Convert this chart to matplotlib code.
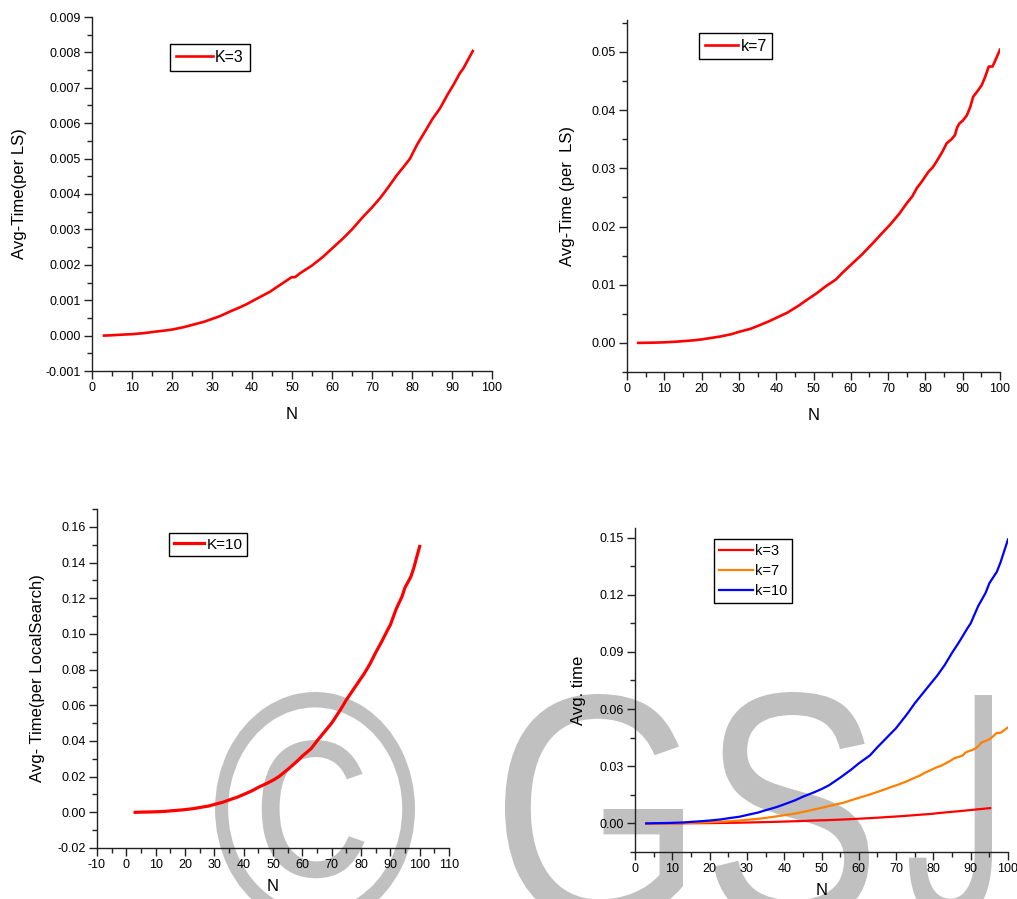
import matplotlib
matplotlib.use("Agg")
import matplotlib.pyplot as plt
from matplotlib.ticker import MultipleLocator, FormatStrFormatter
from matplotlib.textpath import TextPath
from matplotlib.patches import PathPatch
from matplotlib.font_manager import FontProperties
from matplotlib.transforms import Affine2D

plt.rcParams['font.family'] = ['Liberation Sans', 'DejaVu Sans']

# data
n_k3 = [3, 5, 8, 10, 13, 15, 18, 20, 23, 25, 28, 30, 32, 34.5, 37, 38.7, 41, 44.5, 47,
        49.9, 50.75, 52, 55, 57.8, 60, 62.8, 65, 67.8, 70, 72, 74, 76.2, 78, 79.5,
        81.2, 83.7, 85, 87, 89, 90.3, 92, 92.8, 95.2]
t_k3 = [0.0, 0.00001, 0.00003, 0.00004, 0.00007, 0.0001, 0.00014, 0.00017, 0.00024,
        0.0003, 0.00039, 0.00047, 0.00055, 0.00068, 0.0008, 0.00089, 0.00103, 0.00124,
        0.00143, 0.00165, 0.00165, 0.00176, 0.00198, 0.00223, 0.00246, 0.00275, 0.003,
        0.00336, 0.00362, 0.00388, 0.00418, 0.00453, 0.00478, 0.005, 0.00538, 0.00585,
        0.0061, 0.00642, 0.00683, 0.00707, 0.00742, 0.00754, 0.00804]

n_k7 = [3, 5, 8, 10, 13, 15, 18, 20, 23, 25, 28, 30, 33, 35, 38, 40, 43, 46, 48, 51,
        53, 56, 58, 61, 63, 66, 68, 70.5, 73, 75, 76.5, 77.7, 79, 80.8, 82, 83, 84.5,
        85.7, 87, 87.9, 88.5, 89.1, 90, 91.1, 92, 92.8, 94, 95.1, 96, 97, 98, 98.7, 100]
t_k7 = [0.0, 0.00002, 0.00006, 0.0001, 0.0002, 0.0003, 0.00045, 0.0006, 0.0009, 0.0011,
        0.0015, 0.0019, 0.0024, 0.0029, 0.0037, 0.0043, 0.0052, 0.0064, 0.0073, 0.0086,
        0.0096, 0.0109, 0.0122, 0.0140, 0.0152, 0.0172, 0.0186, 0.0203, 0.0222, 0.0240,
        0.0252, 0.0266, 0.0277, 0.0294, 0.0302, 0.0312, 0.0328, 0.0343, 0.0350, 0.0357,
        0.0370, 0.0377, 0.0382, 0.0391, 0.0405, 0.0423, 0.0433, 0.0443, 0.0457, 0.0475,
        0.0475, 0.0485, 0.0504]

n_k10 = [3, 5, 8, 10, 13, 15, 18, 20, 23, 25, 28, 30, 33, 35, 38, 40, 43, 45, 48, 50,
         52, 55, 58, 60, 63, 65, 68, 70, 73, 75, 78, 81, 83, 85, 87, 89, 90, 92, 94,
         95, 97, 98, 100]
t_k10 = [0.0, 0.0001, 0.0002, 0.0003, 0.0005, 0.0008, 0.0012, 0.0015, 0.0021, 0.0027,
         0.0035, 0.0044, 0.0057, 0.0069, 0.0086, 0.0100, 0.0122, 0.0140, 0.0163, 0.0180,
         0.0200, 0.0240, 0.0283, 0.0315, 0.0357, 0.0400, 0.0460, 0.0500, 0.0575, 0.0630,
         0.0703, 0.0775, 0.0830, 0.0895, 0.0955, 0.1020, 0.1050, 0.1140, 0.1210, 0.1260,
         0.1320, 0.1370, 0.1490]

W, H = 1017, 899
fig = plt.figure(figsize=(W / 100, H / 100), dpi=100)
fig.patch.set_facecolor('white')

# watermark "© GSJ" behind the plots (glyph, font, left, right, top, height in px)
wm_glyphs = [('\u00a9', 'Liberation Sans', 215, 415, 692, 234),
             ('G', 'Liberation Sans', 505, 683, 694, 230),
             ('S', 'Liberation Sans', 714, 869, 692, 232),
             ('J', 'Roboto', 909, 992, 695, 228)]
for ch, fam, x0, x1, top, h in wm_glyphs:
    tp = TextPath((0, 0), ch, size=100, prop=FontProperties(family=fam))
    ext = tp.get_extents()
    tr = (Affine2D().translate(-ext.x0, -ext.y1)
          .scale((x1 - x0) / ext.width / W, h / ext.height / H)
          .translate(x0 / W, 1 - top / H) + fig.transFigure)
    fig.patches.append(PathPatch(tp, transform=tr, fc='#c0c0c0', ec='none', zorder=-10))


def make_ax(left, right, top, bottom):
    ax = fig.add_axes([left / W, 1 - bottom / H, (right - left) / W, (bottom - top) / H])
    ax.set_facecolor('none')
    for s in ['top', 'right']:
        ax.spines[s].set_visible(False)
    for s in ['left', 'bottom']:
        ax.spines[s].set_linewidth(1.0)
        ax.spines[s].set_color('#222222')
    ax.tick_params(which='major', direction='out', length=6, width=1, color='#222222',
                   labelsize=9, pad=2)
    ax.tick_params(which='minor', direction='out', length=3.5, width=1, color='#222222')
    ax.xaxis.set_major_locator(MultipleLocator(10))
    ax.xaxis.set_minor_locator(MultipleLocator(5))
    ax.xaxis.set_major_formatter(FormatStrFormatter('%d'))
    return ax


def add_legend(ax, x, y, fs, hl=2.1, ls=0.15, bp=0.3):
    ax.legend(loc='upper left', bbox_to_anchor=(x, y), borderaxespad=0, fontsize=fs,
              frameon=True, fancybox=False, edgecolor='black', framealpha=1,
              handlelength=hl, handletextpad=0.15, borderpad=bp, labelspacing=ls)
    ax.get_legend().get_frame().set_linewidth(1.0)


# panel 1
ax1 = make_ax(92, 492, 17, 371)
ax1.plot(n_k3, t_k3, color='#ff0000', lw=1.9, label='K=3')
ax1.set_xlim(0, 100)
ax1.set_ylim(-0.001, 0.009)
ax1.yaxis.set_major_locator(MultipleLocator(0.001))
ax1.yaxis.set_minor_locator(MultipleLocator(0.0005))
ax1.yaxis.set_major_formatter(FormatStrFormatter('%.3f'))
ax1.set_xlabel('N', fontsize=12, labelpad=9)
ax1.set_ylabel('Avg-Time(per LS)', fontsize=12, labelpad=13)
add_legend(ax1, 0.195, 0.924, 11.5, hl=2.3, bp=0.38)

# panel 2
ax2 = make_ax(627, 1000, 20, 372)
ax2.plot(n_k7, t_k7, color='#ff0000', lw=1.9, label='k=7')
ax2.set_xlim(0, 100)
ax2.set_ylim(-0.005, 0.0555)
ax2.yaxis.set_major_locator(MultipleLocator(0.01))
ax2.yaxis.set_minor_locator(MultipleLocator(0.005))
ax2.yaxis.set_major_formatter(FormatStrFormatter('%.2f'))
ax2.set_xlabel('N', fontsize=12, labelpad=9)
ax2.set_ylabel('Avg-Time (per  LS)', fontsize=12, labelpad=12)
add_legend(ax2, 0.193, 0.963, 11.5, hl=2.1, bp=0.35)

# panel 3
ax3 = make_ax(97, 449, 509, 848)
ax3.plot(n_k10, t_k10, color='#ff0000', lw=2.3, label='K=10')
ax3.set_xlim(-10, 110)
ax3.set_ylim(-0.02, 0.17)
ax3.yaxis.set_major_locator(MultipleLocator(0.02))
ax3.yaxis.set_minor_locator(MultipleLocator(0.01))
ax3.yaxis.set_major_formatter(FormatStrFormatter('%.2f'))
ax3.set_xlabel('N', fontsize=12, labelpad=6)
ax3.set_ylabel('Avg- Time(per LocalSearch)', fontsize=12, labelpad=9)
add_legend(ax3, 0.2045, 0.929, 11, hl=2.0, bp=0.3)

# panel 4
ax4 = make_ax(635, 1008, 528, 852)
ax4.plot(n_k3, t_k3, color='#ff0000', lw=1.6, label='k=3')
ax4.plot(n_k7, t_k7, color='#ff8000', lw=1.6, label='k=7')
ax4.plot(n_k10, t_k10, color='#0000ff', lw=1.6, label='k=10')
ax4.set_xlim(0, 100)
ax4.set_ylim(-0.015, 0.155)
ax4.yaxis.set_major_locator(MultipleLocator(0.03))
ax4.yaxis.set_minor_locator(MultipleLocator(0.015))
ax4.yaxis.set_major_formatter(FormatStrFormatter('%.2f'))
ax4.set_xlabel('N', fontsize=12, labelpad=6)
ax4.set_ylabel('Avg. time', fontsize=12, labelpad=10)
add_legend(ax4, 0.212, 0.966, 10.5, hl=2.3, ls=0.4, bp=0.35)

fig.savefig('out.png', dpi=100)
